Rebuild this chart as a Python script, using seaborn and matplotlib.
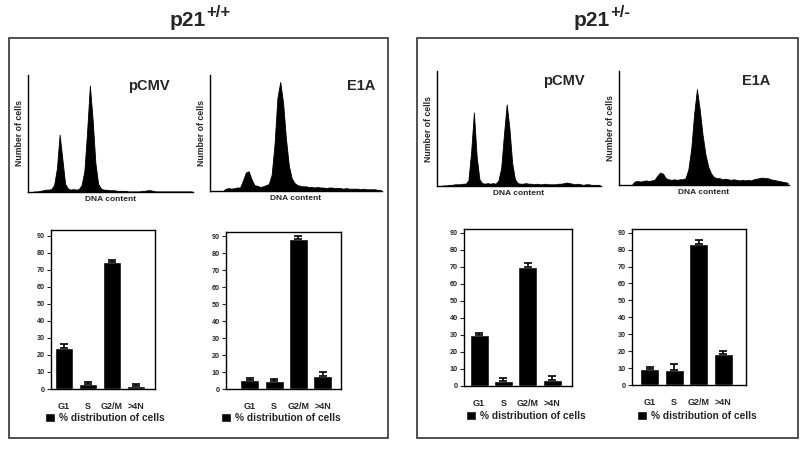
import numpy as np
import matplotlib.pyplot as plt
from matplotlib.patches import Rectangle, Patch
import seaborn as sns

sns.set_style("white")
plt.rcParams['font.family'] = ['Liberation Sans', 'DejaVu Sans']
plt.rcParams['font.weight'] = 'bold'

phases = ["G1", "S", "G2/M", ">4N"]

# % distribution of cells, bar height and upper error
wt_pcmv = [24.2, 2.9, 74.4, 1.6]
wt_pcmv_err = [2.2, 1.2, 1.7, 1.3]
wt_e1a = [5.5, 4.9, 88.4, 7.4]
wt_e1a_err = [1.1, 1.0, 1.8, 2.6]
het_pcmv = [29.8, 2.9, 70.1, 3.3]
het_pcmv_err = [1.6, 2.0, 2.3, 2.4]
het_e1a = [9.4, 8.8, 83.5, 18.3]
het_e1a_err = [1.2, 3.4, 2.0, 1.9]

# DNA content histograms (60 channels, counts as % of panel height)
wt_pcmv_hist = [0, 0, 0.5, 0.5, 1, 1.5, 2, 2, 2.5, 6,
                20, 49, 28, 7, 3, 2, 2.5, 2, 2.5, 6,
                18, 52, 91, 62, 25, 7, 3, 2, 2, 1.5,
                1.5, 1.5, 1, 1, 1, 1, 0.5, 0.5, 0.5, 0.5,
                0.5, 1, 1, 1.5, 1.5, 1, 0.5, 0.5, 0.5, 0.5,
                0.5, 0.5, 0.5, 0.5, 0.5, 0.5, 0.5, 0.5, 0.5, 0.5]
wt_e1a_hist = [0, 0, 0, 0, 0, 2, 2.5, 2, 2.5, 3,
               3, 9, 16, 17, 10, 5, 4.5, 3.5, 4, 5,
               6, 14, 40, 80, 94, 76, 45, 22, 11, 7,
               5, 4.5, 4, 4, 3.5, 3.5, 3, 3.5, 3, 3,
               2.5, 3, 3, 2.5, 2.5, 2.5, 2, 2.5, 2, 2,
               2, 2, 1.5, 2, 1.5, 1.5, 1.5, 1.5, 1, 1]
het_pcmv_hist = [0, 0, 0.5, 0.5, 1, 1, 1.5, 1.5, 1.5, 2,
                 2, 5, 30, 64, 26, 6, 2.5, 2, 2.5, 2,
                 2.5, 2, 5, 16, 45, 71, 50, 20, 6, 2.5,
                 2, 2, 2.5, 2, 2, 1.5, 2, 1.5, 1.5, 2,
                 1.5, 1.5, 1.5, 1.5, 2, 2, 2.5, 3, 2.5, 2,
                 1.5, 2, 1.5, 1, 1.5, 1.5, 1, 1, 1, 1]
het_e1a_hist = [0, 0, 0, 0, 0, 3, 3.5, 3, 3.5, 4,
                3.5, 4, 4.5, 8, 11, 10, 6, 5, 4.5, 5,
                4.5, 5, 5, 6, 14, 32, 62, 84, 66, 44,
                27, 16, 10, 7, 6, 6, 5, 5.5, 5, 4.5,
                5, 4.5, 4, 4.5, 4, 4.5, 4, 5, 5.5, 6,
                6.5, 6, 6, 5, 4.5, 4, 3.5, 3, 2.5, 2]

W, H = 800, 453
fig = plt.figure(figsize=(8, 4.53), dpi=100)


def place(x0, y0, x1, y1):
    return fig.add_axes([x0 / W, 1 - y1 / H, (x1 - x0) / W, (y1 - y0) / H])


def text_px(x, y, s, **kw):
    fig.text(x / W, 1 - y / H, s, **kw)


def hist_panel(rect, counts, name, name_xy):
    ax = place(*rect)
    n = len(counts)
    sns.histplot(x=np.arange(n) + 0.5, weights=counts, bins=n, binrange=(0, n),
                 element="poly", fill=True, color="black", alpha=1,
                 linewidth=0.6, ax=ax)
    ax.set_xlim(0, n)
    ax.set_ylim(0, 100)
    ax.set_xticks([])
    ax.set_yticks([])
    sns.despine(ax=ax)
    for s in ["left", "bottom"]:
        ax.spines[s].set_color("black")
        ax.spines[s].set_linewidth(1.0)
    ax.set_xlabel("DNA content", fontsize=6, fontweight="bold", labelpad=3)
    ax.set_ylabel("Number of cells", fontsize=6.3, fontweight="bold", labelpad=3)
    text_px(name_xy[0], name_xy[1], name, fontsize=10.5, fontweight="bold",
            ha="left", va="baseline")


def bar_panel(rect, vals, errs, ytop, xlim, legend_xy):
    ax = place(*rect)
    sns.barplot(x=phases, y=vals, color="black", saturation=1, width=0.78, ax=ax)
    ax.errorbar(np.arange(len(vals)), vals, yerr=[np.zeros(len(vals)), errs],
                fmt="none", ecolor="black", elinewidth=1.2, capsize=3, capthick=1.2)
    ax.set_ylim(0, ytop)
    ax.set_xlim(*xlim)
    ax.set_yticks(range(0, 91, 10))
    ax.tick_params(axis="y", left=True, length=3, width=0.8, labelsize=5.2,
                   pad=1.5, direction="out")
    ax.tick_params(axis="x", bottom=False, labelsize=6.5, pad=6)
    for lab in ax.get_xticklabels() + ax.get_yticklabels():
        lab.set_fontweight("bold")
    for s in ax.spines.values():
        s.set_color("black")
        s.set_linewidth(1.0)
    ax.set_xlabel("")
    ax.set_ylabel("")
    ax.legend([Patch(facecolor="black")], ["% distribution of cells"],
              loc="center left",
              bbox_to_anchor=(legend_xy[0] / W, 1 - legend_xy[1] / H),
              bbox_transform=fig.transFigure, frameon=False, fontsize=7.3,
              handlelength=1.0, handleheight=1.0, handletextpad=0.4,
              borderpad=0, borderaxespad=0)


# panel frames
for x0, x1 in [(9, 388), (417, 798)]:
    fig.add_artist(Rectangle((x0 / W, 1 - 438 / H), (x1 - x0) / W, 400 / H,
                             transform=fig.transFigure, fill=False,
                             edgecolor="#333333", linewidth=1.2))

# genotype titles
text_px(206, 26, "p21", fontsize=15, fontweight="bold", ha="right", va="baseline")
text_px(206, 17, "+/+", fontsize=12, fontweight="bold", ha="left", va="baseline")
text_px(610, 26, "p21", fontsize=15, fontweight="bold", ha="right", va="baseline")
text_px(610, 17, "+/-", fontsize=12, fontweight="bold", ha="left", va="baseline")

hist_panel((28, 75, 193, 192), wt_pcmv_hist, "pCMV", (128, 90))
hist_panel((210, 75, 382, 191), wt_e1a_hist, "E1A", (347, 90))
hist_panel((437, 71, 601, 186), het_pcmv_hist, "pCMV", (543, 85))
hist_panel((619, 71, 789, 185), het_e1a_hist, "E1A", (742, 85))

bar_panel((51, 230, 155, 389), wt_pcmv, wt_pcmv_err, 93.5, (-0.54, 3.79), (45, 418))
bar_panel((226, 232, 341, 389), wt_e1a, wt_e1a_err, 92.4, (-0.98, 3.75), (221, 418))
bar_panel((464, 229, 572, 386), het_pcmv, het_pcmv_err, 92.2, (-0.62, 3.82), (466, 416))
bar_panel((632, 229, 746, 385), het_e1a, het_e1a_err, 92.2, (-0.73, 3.94), (637, 416))

fig.savefig("out.png", dpi=100, facecolor="white")
